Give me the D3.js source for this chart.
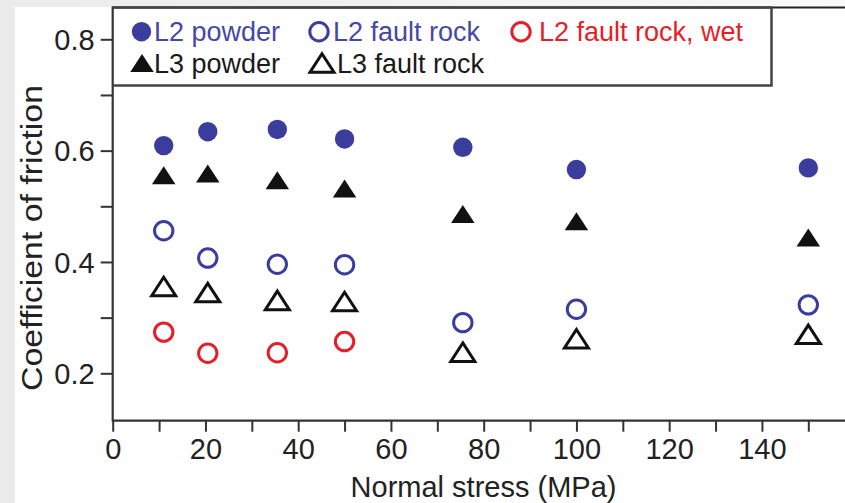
<!DOCTYPE html>
<html>
<head>
<meta charset="utf-8">
<script src="https://cdn.jsdelivr.net/npm/d3@7"></script>
<style>
  html, body { margin: 0; padding: 0; background: #fff; }
  svg { display: block; font-family: "Liberation Sans", Arial, Helvetica, sans-serif; }
</style>
</head>
<body>
<svg id="chart" width="845" height="503"></svg>
<script>
// Normal stress (MPa) of each test
const stressDry = [11, 20.5, 35.5, 50, 75.5, 100, 150];
const stressWet = [11, 20.5, 35.5, 50];

// Coefficient of friction per sample
const l2Powder       = [0.609, 0.634, 0.638, 0.621, 0.606, 0.566, 0.569];
const l2FaultRock    = [0.456, 0.407, 0.396, 0.395, 0.291, 0.315, 0.323];
const l2FaultRockWet = [0.274, 0.236, 0.237, 0.257];
const l3Powder       = [0.556, 0.559, 0.547, 0.532, 0.486, 0.473, 0.444];
const l3FaultRock    = [0.356, 0.345, 0.331, 0.329, 0.238, 0.262, 0.270];

// Axis ticks
const xTicks = [0, 10, 20, 30, 40, 50, 60, 70, 80, 90, 100, 110, 120, 130, 140, 150];
const xTickLabels = [0, 20, 40, 60, 80, 100, 120, 140];
const yTicks = [0.2, 0.3, 0.4, 0.5, 0.6, 0.7, 0.8];
const yTickLabels = [0.2, 0.4, 0.6, 0.8];

const xTitle = "Normal stress (MPa)";
const yTitle = "Coefficient of friction";

const BLUE = "#3a3d9c", RED = "#e61e28", BLACK = "#111", AXIS = "#333";

const series = [
  { name: "L2 powder",          x: stressDry, y: l2Powder,       shape: "circle",   fill: true,  color: BLUE,  text: "#4549a6" },
  { name: "L2 fault rock",      x: stressDry, y: l2FaultRock,    shape: "circle",   fill: false, color: BLUE,  text: "#4549a6" },
  { name: "L2 fault rock, wet", x: stressWet, y: l2FaultRockWet, shape: "circle",   fill: false, color: RED,   text: RED },
  { name: "L3 powder",          x: stressDry, y: l3Powder,       shape: "triangle", fill: true,  color: BLACK, text: "#1a1a1a" },
  { name: "L3 fault rock",      x: stressDry, y: l3FaultRock,    shape: "triangle", fill: false, color: BLACK, text: "#1a1a1a" }
];

const W = 845, H = 503;
const svg = d3.select("#chart");

// page backdrop: grey margin on the left, fading strip along the top
const defs = svg.append("defs");
const grad = defs.append("linearGradient").attr("id", "topfade").attr("x1", 0).attr("x2", 1);
grad.append("stop").attr("offset", 0).attr("stop-color", "#ebebeb");
grad.append("stop").attr("offset", 1).attr("stop-color", "#f9f9f9");
svg.append("rect").attr("width", W).attr("height", H).attr("fill", "#fff");
svg.append("rect").attr("x", 0).attr("y", 0).attr("width", W).attr("height", 7).attr("fill", "url(#topfade)");
svg.append("rect").attr("x", 0).attr("y", 0).attr("width", 15).attr("height", H).attr("fill", "#ebebeb");

const x = d3.scaleLinear().domain([0, 150]).range([112.7, 808.3]);
const y = d3.scaleLinear().domain([0.2, 0.8]).range([373.3, 39.3]);
const axisY = 420.7, frameTop = 7.5;

// x axis
const gx = svg.append("g").attr("transform", `translate(0,${axisY})`)
  .call(d3.axisBottom(x).tickValues(xTicks).tickSize(11).tickSizeOuter(0)
    .tickFormat(d => xTickLabels.includes(d) ? d : ""));
gx.select(".domain").remove();
gx.selectAll(".tick line").attr("stroke", AXIS).attr("stroke-width", 2);
gx.selectAll(".tick text").attr("y", 38.3).attr("dy", 0)
  .attr("fill", "#222").style("font-size", "29px").style("font-family", "inherit");

// y axis
const gy = svg.append("g").attr("transform", `translate(${x(0)},0)`)
  .call(d3.axisLeft(y).tickValues(yTicks).tickSize(12).tickSizeOuter(0)
    .tickFormat(d => yTickLabels.some(v => Math.abs(v - d) < 1e-9) ? d3.format(".1f")(d) : ""));
gy.select(".domain").remove();
gy.selectAll(".tick line").attr("stroke", AXIS).attr("stroke-width", 2);
gy.selectAll(".tick text").attr("x", -18).attr("dy", "0.35em")
  .attr("fill", "#222").style("font-size", "29px").style("font-family", "inherit");

// axis lines and top frame line
svg.append("line").attr("x1", x(0)).attr("x2", W).attr("y1", axisY).attr("y2", axisY)
  .attr("stroke", AXIS).attr("stroke-width", 2.2);
svg.append("line").attr("x1", x(0)).attr("x2", x(0)).attr("y1", frameTop - 1).attr("y2", axisY + 1)
  .attr("stroke", AXIS).attr("stroke-width", 2.2);
svg.append("line").attr("x1", x(0)).attr("x2", W).attr("y1", frameTop).attr("y2", frameTop)
  .attr("stroke", "#222").attr("stroke-width", 2.2);

// axis titles
svg.append("text").attr("x", 483.5).attr("y", 497).attr("text-anchor", "middle")
  .attr("fill", "#222").style("font-size", "29px").text(xTitle);
svg.append("text").attr("transform", "translate(42,238) rotate(-90)").attr("text-anchor", "middle")
  .attr("fill", "#222").style("font-size", "30px")
  .attr("textLength", 306).attr("lengthAdjust", "spacingAndGlyphs").text(yTitle);

// marker shapes
function trianglePath(w, h) {
  return `M0,${-h / 2}L${w / 2},${h / 2}L${-w / 2},${h / 2}Z`;
}
function drawMarker(g, s) {
  if (s.shape === "circle") {
    g.append("circle")
      .attr("r", s.fill ? 9.7 : 9.2)
      .attr("fill", s.fill ? s.color : "none")
      .attr("stroke", s.fill ? "none" : s.color)
      .attr("stroke-width", s.fill ? 0 : 3);
  } else {
    g.append("path")
      .attr("d", s.fill ? trianglePath(23.5, 18) : trianglePath(24, 18.5))
      .attr("fill", s.fill ? s.color : "none")
      .attr("stroke", s.fill ? "none" : s.color)
      .attr("stroke-width", s.fill ? 0 : 3)
      .attr("stroke-linejoin", "miter");
  }
}

// data points
series.forEach(s => {
  const pts = s.x.map((xv, i) => ({ xv, yv: s.y[i] }));
  svg.append("g").selectAll("g").data(pts).join("g")
    .attr("transform", d => `translate(${x(d.xv)},${y(d.yv)})`)
    .each(function () { drawMarker(d3.select(this), s); });
});

// legend box
svg.append("path")
  .attr("d", `M${x(0)},${frameTop}H771.5V85.5H${x(0)}`)
  .attr("fill", "none").attr("stroke", "#444").attr("stroke-width", 2.5);

const legendPos = [
  { mx: 141.5, my: 31.7, tx: 154, ty: 41 },
  { mx: 319,   my: 31.7, tx: 333, ty: 41 },
  { mx: 521,   my: 31.7, tx: 539, ty: 41 },
  { mx: 142,   my: 63,   tx: 154, ty: 72.5 },
  { mx: 322,   my: 63,   tx: 337, ty: 72.5 }
];
series.forEach((s, i) => {
  const p = legendPos[i];
  const g = svg.append("g").attr("transform", `translate(${p.mx},${p.my})`);
  drawMarker(g, s);
  svg.append("text").attr("x", p.tx).attr("y", p.ty).attr("fill", s.text)
    .style("font-size", "27px").text(s.name);
});
</script>
</body>
</html>
